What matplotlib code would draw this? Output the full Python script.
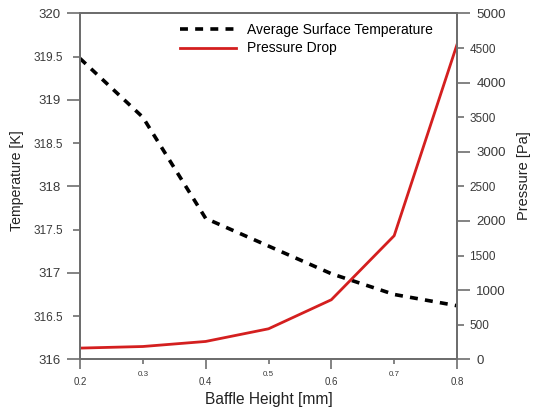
import matplotlib
matplotlib.use("Agg")
import matplotlib.pyplot as plt
from matplotlib.ticker import FixedLocator, FixedFormatter

baffle_height = [0.2, 0.3, 0.4, 0.5, 0.6, 0.7, 0.8]
avg_surface_temp = [319.48, 318.80, 317.63, 317.31, 316.99, 316.75, 316.62]
pressure_drop = [162, 185, 258, 441, 861, 1787, 4551]

x_major = [0.2, 0.4, 0.6, 0.8]
x_minor = [0.3, 0.5, 0.7]
temp_major = [316, 317, 318, 319, 320]
temp_minor = [316.5, 317.5, 318.5, 319.5]
press_major = [0, 1000, 2000, 3000, 4000, 5000]
press_minor = [500, 1500, 2500, 3500, 4500]

plt.rcParams['font.family'] = ['Liberation Sans', 'DejaVu Sans']

W, H = 534, 412
L, R, T, B = 80, 457, 13.5, 359.3
fig = plt.figure(figsize=(W/100, H/100), dpi=100)
ax = fig.add_axes([L/W, 1 - B/H, (R-L)/W, (B-T)/H])
ax2 = ax.twinx()

spine_c = '#6e6e6e'
tick_c = '#3a3a3a'

l1, = ax.plot(baffle_height, avg_surface_temp, color='black', lw=2.6,
              linestyle=(0, (2.2, 2.0)), label='Average Surface Temperature')
l2, = ax2.plot(baffle_height, pressure_drop, color='#d41f1f', lw=2.0,
               label='Pressure Drop')

ax.set_xlim(0.2, 0.8)
ax.set_ylim(316, 320)
ax2.set_ylim(0, 5000)

def fmt(vals):
    return FixedFormatter([f"{v:g}" for v in vals])

ax.xaxis.set_major_locator(FixedLocator(x_major))
ax.xaxis.set_major_formatter(fmt(x_major))
ax.xaxis.set_minor_locator(FixedLocator(x_minor))
ax.xaxis.set_minor_formatter(fmt(x_minor))
ax.yaxis.set_major_locator(FixedLocator(temp_major))
ax.yaxis.set_major_formatter(fmt(temp_major))
ax.yaxis.set_minor_locator(FixedLocator(temp_minor))
ax.yaxis.set_minor_formatter(fmt(temp_minor))
ax2.yaxis.set_major_locator(FixedLocator(press_major))
ax2.yaxis.set_major_formatter(fmt(press_major))
ax2.yaxis.set_minor_locator(FixedLocator(press_minor))
ax2.yaxis.set_minor_formatter(fmt(press_minor))

for a in (ax, ax2):
    for s in a.spines.values():
        s.set_color(spine_c)
        s.set_linewidth(1.4)

ax.tick_params(axis='y', which='major', direction='out', length=9.5, width=1.2,
               color=spine_c, pad=4.3, labelcolor=tick_c, labelsize=9.5)
ax.tick_params(axis='y', which='minor', direction='out', length=5, width=1.2,
               color=spine_c, pad=7.0, labelcolor=tick_c, labelsize=8.5)
ax.tick_params(axis='x', which='major', direction='out', length=7, width=1.2,
               color=spine_c, pad=6, labelcolor=tick_c, labelsize=7)
ax.tick_params(axis='x', which='minor', direction='out', length=3.6, width=1.2,
               color=spine_c, pad=5, labelcolor=tick_c, labelsize=5.8)
ax2.tick_params(axis='y', which='major', direction='out', length=9.5, width=1.2,
                color=spine_c, pad=4.5, labelcolor=tick_c, labelsize=9.5)
ax2.tick_params(axis='y', which='minor', direction='out', length=5, width=1.2,
                color=spine_c, pad=3.8, labelcolor=tick_c, labelsize=8.5)

ax.set_xlabel('Baffle Height [mm]', fontsize=11.2, color='#222222')
ax.set_ylabel('Temperature [K]', fontsize=10.2, color='#222222')
ax2.set_ylabel('Pressure [Pa]', fontsize=10.5, color='#222222')
ax.xaxis.set_label_coords(0.5, (B - 392) / (B - T))
ax.yaxis.set_label_coords((24 - L) / (R - L), (B - 181) / (B - T))
ax2.yaxis.set_label_coords((517 - L) / (R - L), (B - 176) / (B - T))

leg = ax.legend(handles=[l1, l2], loc='upper left', bbox_to_anchor=(0.24, 1.0),
                frameon=False, fontsize=10, handlelength=4.0, handletextpad=0.8,
                labelspacing=0.3, borderaxespad=0.3)

fig.savefig('out.png', dpi=100)
